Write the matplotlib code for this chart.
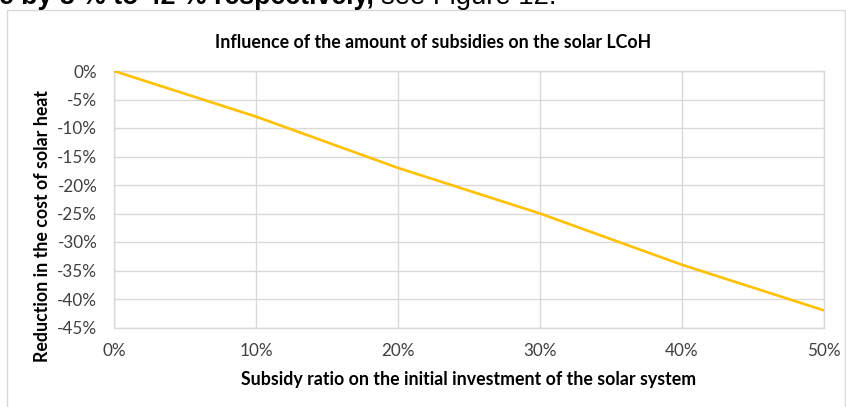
import matplotlib.pyplot as plt
from matplotlib.patches import Rectangle
from matplotlib.ticker import FuncFormatter

# Subsidy ratio (%) and resulting change in solar LCoH (%)
subsidy_ratio = [0, 10, 20, 30, 40, 50]
cost_reduction = [0, -8, -17, -25, -34, -42]

x_ticks = [0, 10, 20, 30, 40, 50]
y_ticks = [0, -5, -10, -15, -20, -25, -30, -35, -40, -45]

W, H = 846, 407
fig = plt.figure(figsize=(W / 100, H / 100), dpi=100)
plt.rcParams['font.family'] = ['Lato', 'DejaVu Sans']

# Chart frame
fig.patches.append(Rectangle((7 / W, -0.05), (W - 8) / W, 1 - 10 / H + 0.05,
                             transform=fig.transFigure, fill=False,
                             edgecolor='#d9d9d9', linewidth=1.0))

# Running sentence above the chart
t1 = fig.text(-1 / W, 1 - 4.5 / H, 'e by 8 % to 42 % respectively,', family='Liberation Sans',
              fontsize=19.3, fontweight='bold', ha='left', va='baseline', color='black')
fig.canvas.draw()
x_end = t1.get_window_extent().x1
fig.text((x_end + 7) / W, 1 - 4.5 / H, 'see Figure 12.', family='Liberation Sans',
         fontsize=19.8, ha='left', va='baseline', color='black')

ax = fig.add_axes([114 / W, 1 - 327.5 / H, (824 - 114) / W, (327.5 - 71) / H])
ax.plot(subsidy_ratio, cost_reduction, color='#FFC000', linewidth=1.9,
        solid_capstyle='butt', zorder=3)

ax.set_xlim(0, 50)
ax.set_ylim(-45, 0)
ax.set_xticks(x_ticks)
ax.set_yticks(y_ticks)
pct = FuncFormatter(lambda v, _: f'{v:.0f}%')
ax.xaxis.set_major_formatter(pct)
ax.yaxis.set_major_formatter(pct)
ax.grid(True, color='#d9d9d9', linewidth=1.0)
ax.set_axisbelow(True)
for s in ax.spines.values():
    s.set_color('#d9d9d9')
    s.set_linewidth(1.0)
ax.tick_params(length=0, labelsize=12.3, labelcolor='#404040')
ax.tick_params(axis='x', pad=11)
ax.tick_params(axis='y', pad=12)

fig.text(433 / W, 1 - 42 / H, 'Influence of the amount of subsidies on the solar LCoH',
         fontsize=12.8, fontweight='bold', color='black', ha='center', va='center')
ax.set_xlabel('Subsidy ratio on the initial investment of the solar system',
              fontsize=12.8, fontweight='bold', color='black', labelpad=9)
fig.text(43 / W, 1 - 226 / H, 'Reduction in the cost of solar heat',
         fontsize=12.8, fontweight='bold', color='black', rotation=90,
         ha='center', va='center')

fig.savefig('out.png', dpi=100)
